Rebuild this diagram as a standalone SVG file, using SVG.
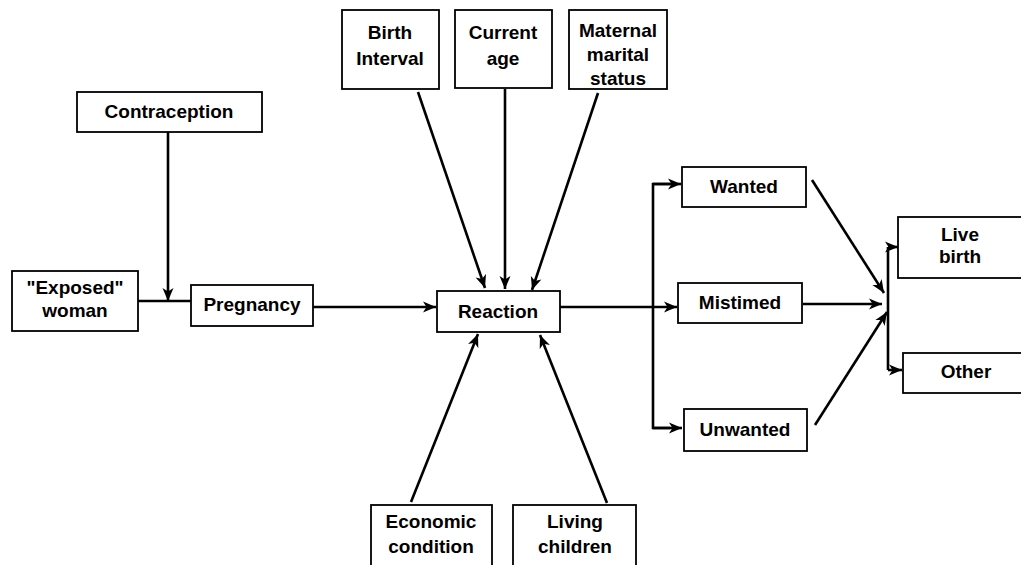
<svg xmlns="http://www.w3.org/2000/svg" width="1021" height="565" viewBox="0 0 1021 565">
<defs>
<style>
.box{fill:#fff;stroke:#000;stroke-width:1.8}
.t{font-family:"Liberation Sans",Arial,sans-serif;font-weight:bold;font-size:19px;text-anchor:middle;fill:#000}
.ln{stroke:#000;stroke-width:2.6;fill:none}
</style>
<marker id="ah" markerUnits="userSpaceOnUse" markerWidth="14" markerHeight="12" refX="13" refY="6" orient="auto">
<path d="M0,0.5 L13,6 L0,11.5 L3.5,6 Z" fill="#000"/>
</marker>
</defs>
<rect width="1021" height="565" fill="#fff"/>
<g id="connectors">
<line class="ln" x1="168" y1="132" x2="168" y2="301" marker-end="url(#ah)"/>
<line class="ln" x1="138" y1="301" x2="191" y2="301"/>
<line class="ln" x1="313" y1="307" x2="436" y2="307" marker-end="url(#ah)"/>
<line class="ln" x1="418" y1="92" x2="485" y2="288" marker-end="url(#ah)"/>
<line class="ln" x1="505" y1="89" x2="505" y2="289" marker-end="url(#ah)"/>
<line class="ln" x1="598" y1="93" x2="532" y2="290" marker-end="url(#ah)"/>
<line class="ln" x1="411" y1="502" x2="478" y2="334" marker-end="url(#ah)"/>
<line class="ln" x1="607" y1="503" x2="540" y2="335" marker-end="url(#ah)"/>
<line class="ln" x1="560" y1="307" x2="677" y2="307" marker-end="url(#ah)"/>
<polyline class="ln" points="670,184 653,184 653,428 670,428"/>
<line class="ln" x1="653" y1="184" x2="681" y2="184" marker-end="url(#ah)"/>
<line class="ln" x1="653" y1="428" x2="682" y2="428" marker-end="url(#ah)"/>
<line class="ln" x1="812" y1="180" x2="884" y2="293" marker-end="url(#ah)"/>
<line class="ln" x1="803" y1="304" x2="882" y2="304" marker-end="url(#ah)"/>
<line class="ln" x1="815" y1="425" x2="887" y2="312" marker-end="url(#ah)"/>
<line class="ln" x1="888" y1="247" x2="888" y2="370"/>
<line class="ln" x1="888" y1="247" x2="898" y2="247" marker-end="url(#ah)"/>
<line class="ln" x1="888" y1="370" x2="902" y2="370" marker-end="url(#ah)"/>
</g>
<g id="contraception"><rect class="box" x="77" y="92" width="185" height="40"/><text class="t" x="169" y="118">Contraception</text></g>
<g id="exposed"><rect class="box" x="12" y="271" width="126" height="60"/><text class="t" x="75" y="294">"Exposed"</text><text class="t" x="75" y="317">woman</text></g>
<g id="pregnancy"><rect class="box" x="191" y="285" width="122" height="41"/><text class="t" x="252" y="311">Pregnancy</text></g>
<g id="reaction"><rect class="box" x="437" y="291" width="123" height="41"/><text class="t" x="498" y="318">Reaction</text></g>
<g id="birth-interval"><rect class="box" x="342" y="10" width="97" height="79"/><text class="t" x="390" y="39">Birth</text><text class="t" x="390" y="65">Interval</text></g>
<g id="current-age"><rect class="box" x="455" y="10" width="97" height="78"/><text class="t" x="503" y="39">Current</text><text class="t" x="503" y="65">age</text></g>
<g id="maternal"><rect class="box" x="569" y="10" width="98" height="79"/><text class="t" x="618" y="37">Maternal</text><text class="t" x="618" y="61">marital</text><text class="t" x="618" y="85">status</text></g>
<g id="economic"><rect class="box" x="371" y="505" width="121" height="70"/><text class="t" x="431" y="528">Economic</text><text class="t" x="431" y="553">condition</text></g>
<g id="living"><rect class="box" x="513" y="505" width="123" height="70"/><text class="t" x="575" y="528">Living</text><text class="t" x="575" y="553">children</text></g>
<g id="wanted"><rect class="box" x="682" y="167" width="124" height="40"/><text class="t" x="744" y="193">Wanted</text></g>
<g id="mistimed"><rect class="box" x="678" y="283" width="124" height="40"/><text class="t" x="740" y="309">Mistimed</text></g>
<g id="unwanted"><rect class="box" x="684" y="409" width="123" height="42"/><text class="t" x="745" y="436">Unwanted</text></g>
<g id="live-birth"><rect class="box" x="898" y="217" width="130" height="61"/><text class="t" x="960" y="241">Live</text><text class="t" x="960" y="263">birth</text></g>
<g id="other"><rect class="box" x="903" y="353" width="130" height="40"/><text class="t" x="966" y="378">Other</text></g>
</svg>
